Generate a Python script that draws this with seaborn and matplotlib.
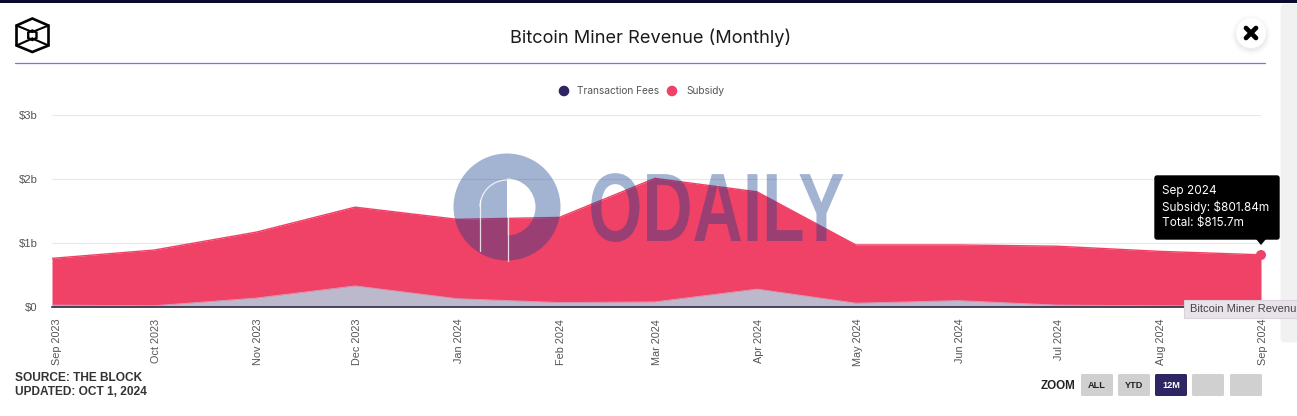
import pandas as pd
import matplotlib
matplotlib.use("Agg")
import matplotlib.pyplot as plt
import matplotlib.dates as mdates
import seaborn as sns
from matplotlib.patches import Arc, Circle, FancyBboxPatch, Polygon, Rectangle, Wedge
from matplotlib.patheffects import AbstractPathEffect
from matplotlib.transforms import Affine2D, ScaledTranslation

# monthly values in $b
months = ["2023-09-01", "2023-10-01", "2023-11-01", "2023-12-01", "2024-01-01", "2024-02-01",
          "2024-03-01", "2024-04-01", "2024-05-01", "2024-06-01", "2024-07-01", "2024-08-01", "2024-09-01"]
fees = [0.03, 0.02, 0.14, 0.33, 0.13, 0.07, 0.08, 0.28, 0.06, 0.10, 0.03, 0.02, 0.01386]
subsidy = [0.73, 0.87, 1.03, 1.23, 1.24, 1.33, 1.93, 1.52, 0.91, 0.87, 0.92, 0.85, 0.80184]
y_ticks = [0, 1, 2, 3]
y_labels = ["$0", "$1b", "$2b", "$3b"]
tooltip_lines = ["Sep 2024", "Subsidy: $801.84m", "Total: $815.7m"]
zoom_buttons = ["ALL", "YTD", "12M", "", ""]

NAVY = "#2e2663"
RED = "#ef4266"
FEE_FILL = "#bdb9cc"
SANS = "Liberation Sans"

W, H = 1297, 416


class SqueezeX(AbstractPathEffect):
    # narrows drawn text around a pixel column, for the condensed watermark lettering
    def __init__(self, center_px, factor):
        super().__init__()
        self.center_px = center_px
        self.factor = factor

    def draw_path(self, renderer, gc, tpath, affine, rgbFace=None):
        squeeze = Affine2D().translate(-self.center_px, 0).scale(self.factor, 1).translate(self.center_px, 0)
        renderer.draw_path(gc, tpath, affine + squeeze, rgbFace)


sns.set_style("white")
plt.rcParams["font.family"] = [SANS, "DejaVu Sans"]

df = pd.DataFrame({"date": pd.to_datetime(months), "fees": fees, "subsidy": subsidy})
df["total"] = df["fees"] + df["subsidy"]
# the first point sits right on the left edge of the plot, a day before the tick
df.loc[0, "date"] = pd.Timestamp("2023-08-31")

fig = plt.figure(figsize=(W / 100, H / 100), dpi=100)
ax = fig.add_axes([52 / W, (H - 307) / H, (1261 - 52) / W, (307 - 115) / H])

ax.fill_between(df["date"], 0, df["fees"], color=FEE_FILL, lw=0)
ax.fill_between(df["date"], df["fees"], df["total"], color=RED, lw=0)
sns.lineplot(data=df, x="date", y="total", color=RED, lw=1, ax=ax)
sns.lineplot(data=df, x="date", y="fees", color="#c9a6c0", lw=0.6, ax=ax)

ax.set_xlim(df["date"].iloc[0], df["date"].iloc[-1])
ax.set_ylim(0, 3)
ax.set_xlabel("")
ax.set_ylabel("")
ax.set_yticks(y_ticks, y_labels)
ax.set_xticks(pd.to_datetime(months))
ax.xaxis.set_major_formatter(mdates.DateFormatter("%b %Y"))
ax.tick_params(axis="x", length=0, pad=8.5, labelrotation=90, labelsize=7.8, labelcolor="#555555")
ax.tick_params(axis="y", length=0, pad=10.5, labelsize=8.1, labelcolor="#555555")
shift = ScaledTranslation(2 / 100, 0, fig.dpi_scale_trans)
for label in ax.get_xticklabels():
    label.set_transform(label.get_transform() + shift)
ax.grid(axis="y", color="#e8e8e8", lw=0.8)
ax.set_axisbelow(True)
for side in ["top", "right", "left"]:
    ax.spines[side].set_visible(False)
ax.spines["bottom"].set_color("#2e2b45")
ax.spines["bottom"].set_linewidth(1.2)

# overlay in pixel coordinates for the page furniture around the chart
ov = fig.add_axes([0, 0, 1, 1], facecolor="none")
ov.set_xlim(0, W)
ov.set_ylim(H, 0)
ov.axis("off")

# top bar and scroll strip
ov.add_patch(Rectangle((0, 0), W, 3, color="#0b0a2c", lw=0))
ov.add_patch(FancyBboxPatch((1282, 5), 20, 336, boxstyle="round,pad=0,rounding_size=3", fc="#f1f1f1", ec="#f1f1f1", lw=2))

# logo
hexagon = [(32.3, 18.5), (48.5, 25.5), (48.5, 45.5), (32.3, 52), (16.5, 45.5), (16.5, 25.5)]
ov.add_patch(Polygon(hexagon, closed=True, fill=False, ec="black", lw=1.9))
ov.add_patch(Polygon([(32.3, 30.5), (36.5, 32.5), (36.5, 38), (32.3, 40), (28.2, 38), (28.2, 32.5)],
                     closed=True, fill=False, ec="black", lw=1.7))
for x0, y0, x1, y1 in [(16.5, 25.5, 32.3, 32), (48.5, 25.5, 32.3, 32), (16.5, 45.5, 32.3, 38.5), (48.5, 45.5, 32.3, 38.5)]:
    ov.plot([x0, x1], [y0, y1], color="black", lw=1.5)

ov.text(651, 37.5, "Bitcoin Miner Revenue (Monthly)", ha="center", va="center", fontsize=13.1, family="Inter", color="#1b1b1b")
ov.plot([15, 1265], [63, 63], color="#a35fe0", lw=0.9)

# close button
for r, a in [(20, 0.012), (18.5, 0.015), (17, 0.02), (16, 0.025)]:
    ov.add_patch(Circle((1251, 35), r, color="black", alpha=a, lw=0))
ov.add_patch(Circle((1251, 33), 15, color="white", lw=0))
ov.plot([1246, 1256], [28, 38], color="black", lw=3.4, solid_capstyle="round")
ov.plot([1246, 1256], [38, 28], color="black", lw=3.4, solid_capstyle="round")

# legend
ov.add_patch(Circle((564, 91), 5.3, color=NAVY, lw=0))
ov.text(577, 91.5, "Transaction Fees", va="center", fontsize=7.3, family="Inter", color="#555555")
ov.add_patch(Circle((672, 91), 5.3, color=RED, lw=0))
ov.text(686, 91.5, "Subsidy", va="center", fontsize=7.3, family="Inter", color="#555555")

# watermark
WM = "#0f3c8b"
WM_ALPHA = 0.38
ov.add_patch(Wedge((507, 207), 53.5, 90, 270, color=WM, alpha=WM_ALPHA, lw=0))
ov.add_patch(Wedge((507, 207), 53.5, -90, 90, width=25, color=WM, alpha=WM_ALPHA, lw=0))
ov.plot([507.5, 507.5], [180, 261], color="white", lw=0.9, alpha=0.8)
ov.plot([480, 480], [200, 251], color="white", lw=0.9, alpha=0.8)
ov.add_patch(Arc((507, 207), 54, 54, theta1=180, theta2=270, color="white", lw=0.9, alpha=0.8))
wm_center = fig.transFigure.transform((716.5 / W, 0))[0]
ov.text(716.5, 216, "ODAILY", ha="center", va="center", fontsize=70, weight="bold", color=WM, alpha=WM_ALPHA,
        path_effects=[SqueezeX(wm_center, 0.715)])

# tooltip
ov.add_patch(Circle((1261, 255), 5, color=RED, lw=0))
ov.add_patch(Polygon([(1256, 239), (1266, 239), (1261, 245)], closed=True, color="black", lw=0))
ov.add_patch(FancyBboxPatch((1155, 176), 124, 63, boxstyle="round,pad=0,rounding_size=2", fc="black", ec="black", lw=1))
for y, line in zip([191, 207, 223], tooltip_lines):
    ov.text(1162, y, line, va="center", fontsize=8.5, family="Inter", color="white")

# browser hover label, cut by the edge of the picture
ov.add_patch(Rectangle((1184, 300), 114, 18, fc="#e8e3e8", ec="#d9d3d9", lw=0.8))
ov.text(1190, 309, "Bitcoin Miner Revenu", va="center", fontsize=8, color="#444444")

# footer
ov.text(15, 378, "SOURCE: THE BLOCK", va="center", fontsize=8.6, weight="bold", color="#333333")
ov.text(15, 392, "UPDATED: OCT 1, 2024", va="center", fontsize=8.6, weight="bold", color="#333333")

# zoom buttons
ov.text(1041, 386, "ZOOM", va="center", fontsize=8.4, weight="bold", color="#222222")
for left, label in zip([1081, 1118, 1155, 1192, 1230], zoom_buttons):
    active = label == "12M"
    ov.add_patch(FancyBboxPatch((left, 374), 32, 22, boxstyle="round,pad=0,rounding_size=1.5",
                                fc=NAVY if active else "#d0d0d0", ec="none"))
    ov.text(left + 16, 386, label, ha="center", va="center", fontsize=6.6, weight="bold",
            color="white" if active else "#222222")

fig.savefig("out.png", dpi=100)
